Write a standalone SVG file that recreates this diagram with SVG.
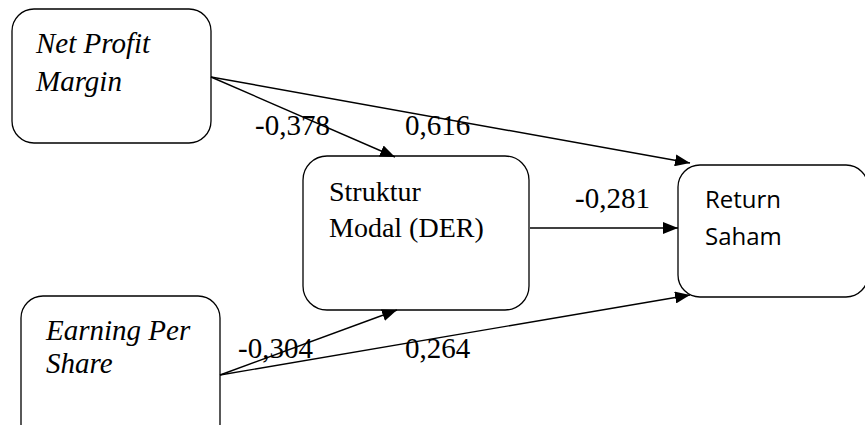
<svg xmlns="http://www.w3.org/2000/svg" width="865" height="425" viewBox="0 0 865 425">
<defs>
<marker id="arr" markerWidth="16" markerHeight="12" refX="15" refY="6" orient="auto" markerUnits="userSpaceOnUse">
<path d="M0,0 L15,6 L0,12 Z" fill="#000"/>
</marker>
</defs>
<rect width="865" height="425" fill="#fff"/>
<g id="npm">
<rect x="12" y="9" width="199" height="134" rx="22" fill="#fff" stroke="#000" stroke-width="1.3"/>
<text font-family="Liberation Serif" font-style="italic" font-size="29" x="36" y="53">Net Profit</text>
<text font-family="Liberation Serif" font-style="italic" font-size="29" x="36" y="91">Margin</text>
</g>
<g id="struktur">
<rect x="303" y="156" width="226" height="154" rx="24" fill="#fff" stroke="#000" stroke-width="1.3"/>
<text font-family="Liberation Serif" font-size="28" x="329" y="201">Struktur</text>
<text font-family="Liberation Serif" font-size="28" x="329" y="237">Modal (DER)</text>
</g>
<g id="return">
<rect x="678" y="165" width="190" height="132" rx="22" fill="#fff" stroke="#000" stroke-width="1.3"/>
<text font-family="Open Sans" font-size="24" x="705" y="208">Return</text>
<text font-family="Open Sans" font-size="24" x="705" y="245">Saham</text>
</g>
<g id="eps">
<rect x="21" y="296" width="199" height="150" rx="22" fill="#fff" stroke="#000" stroke-width="1.3"/>
<text font-family="Liberation Serif" font-style="italic" font-size="29" x="46" y="340">Earning Per</text>
<text font-family="Liberation Serif" font-style="italic" font-size="29" x="46" y="373">Share</text>
</g>
<g id="connectors" stroke="#000" stroke-width="1.4" fill="none" marker-end="url(#arr)">
<line x1="211" y1="77" x2="395" y2="157"/>
<line x1="211" y1="77" x2="690" y2="163"/>
<line x1="530" y1="228" x2="678" y2="228"/>
<line x1="220" y1="375" x2="397" y2="310"/>
<line x1="220" y1="375" x2="690" y2="295"/>
</g>
<g id="labels">
<text font-family="Liberation Serif" font-size="29" x="255" y="135">-0,378</text>
<text font-family="Liberation Serif" font-size="29" x="405" y="135">0,616</text>
<text font-family="Liberation Serif" font-size="29" x="575" y="208">-0,281</text>
<text font-family="Liberation Serif" font-size="29" x="238" y="358">-0,304</text>
<text font-family="Liberation Serif" font-size="29" x="405" y="358">0,264</text>
</g>
</svg>
